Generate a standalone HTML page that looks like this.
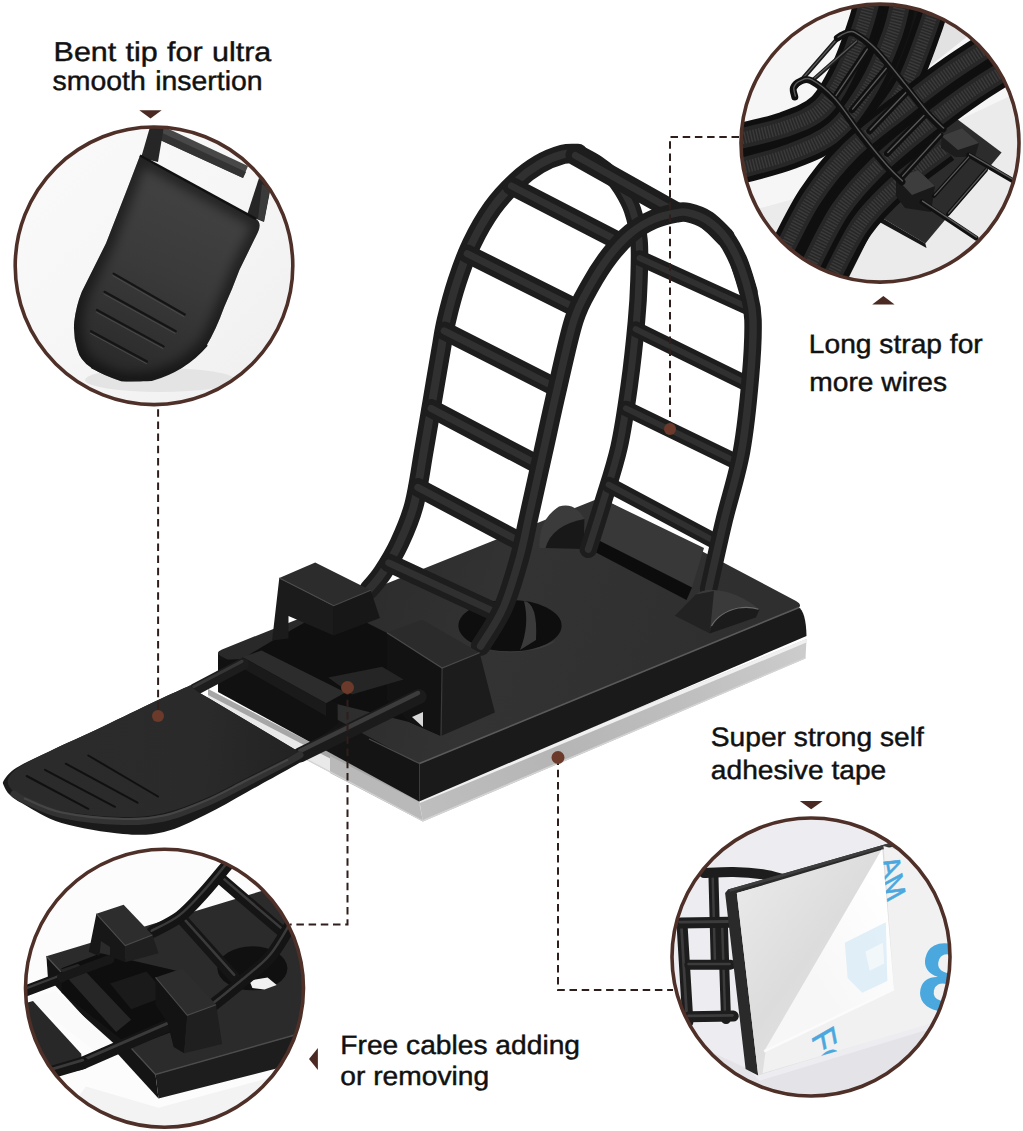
<!DOCTYPE html>
<html lang="en">
<head>
<meta charset="utf-8">
<title>Adjustable cable clip features</title>
<style>
html,body{margin:0;padding:0;background:#fff;}
body{width:1023px;height:1131px;overflow:hidden;position:relative;font-family:"Liberation Sans",sans-serif;}
svg{position:absolute;left:0;top:0;display:block;}
.t{font-family:"Liberation Sans",sans-serif;font-size:26.7px;fill:#111;stroke:#111;stroke-width:0.45px;}
</style>
</head>
<body>
<svg width="1023" height="1131" viewBox="0 0 1023 1131">
<defs>
  <clipPath id="c1"><circle cx="154" cy="265.8" r="139"/></clipPath>
  <clipPath id="c2"><circle cx="880" cy="143.1" r="139"/></clipPath>
  <clipPath id="c3"><circle cx="164.5" cy="988.3" r="139"/></clipPath>
  <clipPath id="c4"><circle cx="811" cy="957" r="139"/></clipPath>
  <linearGradient id="gTop" gradientUnits="userSpaceOnUse" x1="300" y1="560" x2="700" y2="700">
    <stop offset="0" stop-color="#292929"/><stop offset="0.5" stop-color="#333333"/><stop offset="1" stop-color="#2f2f2f"/>
  </linearGradient>
  <linearGradient id="gTongue" gradientUnits="userSpaceOnUse" x1="60" y1="740" x2="300" y2="760">
    <stop offset="0" stop-color="#2b2b2b"/><stop offset="0.6" stop-color="#2a2a2a"/><stop offset="1" stop-color="#222"/>
  </linearGradient>
  <linearGradient id="gTip" gradientUnits="userSpaceOnUse" x1="205" y1="185" x2="120" y2="385">
    <stop offset="0" stop-color="#424242"/><stop offset="0.45" stop-color="#3a3a3a"/><stop offset="0.8" stop-color="#2f2f2f"/><stop offset="1" stop-color="#272727"/>
  </linearGradient>
  <linearGradient id="gC1" gradientUnits="userSpaceOnUse" x1="20" y1="130" x2="290" y2="400">
    <stop offset="0" stop-color="#fafafa"/><stop offset="0.5" stop-color="#f6f6f6"/><stop offset="1" stop-color="#efefef"/>
  </linearGradient>
  <linearGradient id="gPad" gradientUnits="userSpaceOnUse" x1="740" y1="880" x2="900" y2="1000">
    <stop offset="0" stop-color="#e9e9e9"/><stop offset="0.5" stop-color="#dcdcdc"/><stop offset="1" stop-color="#e6e6e6"/>
  </linearGradient>
  <linearGradient id="gPeel" gradientUnits="userSpaceOnUse" x1="800" y1="960" x2="890" y2="900">
    <stop offset="0" stop-color="#f7f7f7"/><stop offset="1" stop-color="#ffffff"/>
  </linearGradient>
  <clipPath id="cLiner"><path d="M882.9 846.1 L960.0 868.0 L960.0 1014.7 L923.9 1025.5 L762.6 1073.3 L765.6 1051.3 L894.0 989.2 L882.3 848.4Z"/></clipPath>
  <linearGradient id="gTape" gradientUnits="userSpaceOnUse" x1="420" y1="800" x2="806" y2="650">
    <stop offset="0" stop-color="#bebebe"/><stop offset="0.35" stop-color="#b5b5b5"/><stop offset="0.7" stop-color="#bfbfbf"/><stop offset="1" stop-color="#cccccc"/>
  </linearGradient>
  <clipPath id="cTip"><path d="M140 155.5 L256 219 Q262 223 258 232 L239.4 270 Q232 290 224.2 307 Q216 330 206 346.4 Q195 358 181.8 367.6 Q166 376 151.5 379.7 Q136 382.5 121.2 381.2 Q104 376 91 367.6 Q80 360 77.3 349.4 Q73 336 74.2 322 Q76 306 81.8 291.8 L106 243.3 L127.3 188.8Z"/></clipPath>
  <filter id="fBlur6" x="-20%" y="-20%" width="140%" height="140%"><feGaussianBlur stdDeviation="6"/></filter>
</defs>
<rect width="1023" height="1131" fill="#fff"/>
<g id="main">
  <!-- adhesive tape -->
  <path d="M208 689 L419 799 L806.5 639 L805.5 658.5 L423 821.5 L208 708Z" fill="url(#gTape)"/>
  <path d="M208 689 L419 799 L423 821.5 L208 708Z" fill="#e9e9e9"/>
  <path d="M208 689 L419 799 L419.5 805 L208 695Z" fill="#a6a6a6"/>
  <path d="M330 756 L419 802 L423 821.5 L330 773Z" fill="#b9b9b9"/>
  <path d="M419 799 L806.5 639 L806.4 642.5 L420 803Z" fill="#f0f0f0"/>
  <path d="M423 821.5 L805.5 658.5 L805.6 657 L422.5 820 L208 706.5 L208 708Z" fill="#d4d4d4"/>
  <!-- base faces -->
  <path d="M218 652.7 L419.2 762.7 L419.2 801.4 L218 692Z" fill="#141414"/>
  <path d="M419.2 762.7 L798 607 Q806 611 806.5 636 L419.2 801.4Z" fill="#1a1a1a"/>
  <!-- base top -->
  <path d="M222 649.5 L596 499.5 Q600 497.5 604 499.5 L796 601 Q803 605 798 608.5 L424 762 Q419.5 764 414 761.5 L220 655.5 Q215 652.5 222 649.5Z" fill="url(#gTop)"/>
  <path d="M419.5 763.5 L799 607.5" stroke="#5a5a5a" stroke-width="1.6" fill="none"/>
  <path d="M419.5 763.5 L369 739" stroke="#4a4a4a" stroke-width="1.3" fill="none"/>
  <!-- raised bar + slot -->
  <path d="M609 502 L704 548 L692 587.5 L599 540.5Z" fill="#383838"/>
  <path d="M599 540.5 L692 587.5 L686.5 600 L596 552.5Z" fill="#0c0c0c"/>
  <!-- back bump -->
  <path d="M539.5 548 Q538 520 559 506.5 Q575 502 584.5 519 L586 548Z" fill="#3b3b3b"/>
  <path d="M545.5 548 Q552 525 584.5 519 L584 549Z" fill="#181818"/>
  <!-- hole -->
  <ellipse cx="510" cy="625.7" rx="51.6" ry="25.8" fill="#0e0e0e"/>
  <path d="M524 601 Q538 603 536 640 L520 650 Q530 625 524 601Z" fill="#3a3a3a"/>
  <path d="M470 642 Q510 664 556 640 Q545 651.5 510 651.5 Q480 651.5 470 642Z" fill="#3d3d3d"/>
  <!-- strap -->
  <path d="M578.0 153.5 C581.2 155.2 591.3 160.2 597.0 164.0 C602.7 167.8 607.8 171.8 612.0 176.0 C616.2 180.2 618.6 183.3 622.0 189.0 C625.4 194.7 629.7 201.5 632.5 210.0 C635.3 218.5 637.9 228.3 639.0 240.0 C640.1 251.7 639.4 266.3 639.0 280.0 C638.6 293.7 638.0 304.7 636.4 322.0 C634.8 339.3 632.4 362.8 629.5 383.7 C626.6 404.6 623.5 427.3 619.0 447.4 C614.5 467.4 607.6 487.0 602.5 504.0 C597.4 521.0 590.7 541.8 588.3 549.3" fill="none" stroke="#1d1d1d" stroke-width="17.5" stroke-linecap="round" stroke-linejoin="round" />
  <path d="M578.0 153.5 C581.2 155.2 591.3 160.2 597.0 164.0 C602.7 167.8 607.8 171.8 612.0 176.0 C616.2 180.2 618.6 183.3 622.0 189.0 C625.4 194.7 629.7 201.5 632.5 210.0 C635.3 218.5 637.9 228.3 639.0 240.0 C640.1 251.7 639.4 266.3 639.0 280.0 C638.6 293.7 638.0 304.7 636.4 322.0 C634.8 339.3 632.4 362.8 629.5 383.7 C626.6 404.6 623.5 427.3 619.0 447.4 C614.5 467.4 607.6 487.0 602.5 504.0 C597.4 521.0 590.7 541.8 588.3 549.3" fill="none" stroke="#303030" stroke-width="7" stroke-linecap="round" stroke-linejoin="round" />
  <path d="M368.7 590.0 C371.1 587.0 377.9 579.8 383.0 572.0 C388.1 564.2 394.3 554.2 399.5 543.0 C404.7 531.8 409.9 520.5 414.0 505.0 C418.1 489.5 420.9 467.5 424.0 450.0 C427.1 432.5 429.7 416.7 432.5 400.0 C435.3 383.3 438.7 363.3 441.0 350.0 C443.3 336.7 443.8 331.4 446.5 320.0 C449.2 308.6 452.9 294.3 457.1 281.5 C461.3 268.7 465.9 255.6 471.8 243.4 C477.7 231.2 485.0 218.5 492.3 208.2 C499.6 197.9 508.0 189.1 515.8 181.8 C523.6 174.5 531.5 168.8 539.3 164.2 C547.1 159.6 556.2 156.2 562.7 154.4 C569.2 152.6 575.5 153.7 578.0 153.5" fill="none" stroke="#1d1d1d" stroke-width="19.5" stroke-linecap="round" stroke-linejoin="round" />
  <path d="M368.7 590.0 C371.1 587.0 377.9 579.8 383.0 572.0 C388.1 564.2 394.3 554.2 399.5 543.0 C404.7 531.8 409.9 520.5 414.0 505.0 C418.1 489.5 420.9 467.5 424.0 450.0 C427.1 432.5 429.7 416.7 432.5 400.0 C435.3 383.3 438.7 363.3 441.0 350.0 C443.3 336.7 443.8 331.4 446.5 320.0 C449.2 308.6 452.9 294.3 457.1 281.5 C461.3 268.7 465.9 255.6 471.8 243.4 C477.7 231.2 485.0 218.5 492.3 208.2 C499.6 197.9 508.0 189.1 515.8 181.8 C523.6 174.5 531.5 168.8 539.3 164.2 C547.1 159.6 556.2 156.2 562.7 154.4 C569.2 152.6 575.5 153.7 578.0 153.5" fill="none" stroke="#303030" stroke-width="8" stroke-linecap="round" stroke-linejoin="round" />
  <path d="M639.6 258.0 L752.3 309.3" fill="none" stroke="#1d1d1d" stroke-width="15.5" stroke-linecap="round" stroke-linejoin="round" />
  <path d="M639.6 258.0 L752.3 309.3" fill="none" stroke="#303030" stroke-width="6" stroke-linecap="round" stroke-linejoin="round" />
  <path d="M635.7 329.1 L749.7 385.1" fill="none" stroke="#1d1d1d" stroke-width="15.5" stroke-linecap="round" stroke-linejoin="round" />
  <path d="M635.7 329.1 L749.7 385.1" fill="none" stroke="#303030" stroke-width="6" stroke-linecap="round" stroke-linejoin="round" />
  <path d="M626.0 408.4 L739.1 463.3" fill="none" stroke="#1d1d1d" stroke-width="15.5" stroke-linecap="round" stroke-linejoin="round" />
  <path d="M626.0 408.4 L739.1 463.3" fill="none" stroke="#303030" stroke-width="6" stroke-linecap="round" stroke-linejoin="round" />
  <path d="M608.6 484.6 L718.8 543.4" fill="none" stroke="#1d1d1d" stroke-width="15.5" stroke-linecap="round" stroke-linejoin="round" />
  <path d="M608.6 484.6 L718.8 543.4" fill="none" stroke="#303030" stroke-width="6" stroke-linecap="round" stroke-linejoin="round" />
  <path d="M575.4 155.5 L676.0 212.0" fill="none" stroke="#1d1d1d" stroke-width="20" stroke-linecap="round" stroke-linejoin="round" />
  <path d="M575.4 155.5 L676.0 212.0" fill="none" stroke="#303030" stroke-width="7" stroke-linecap="round" stroke-linejoin="round" />
  <path d="M511.5 186.0 L620.9 242.4" fill="none" stroke="#1d1d1d" stroke-width="18.5" stroke-linecap="round" stroke-linejoin="round" />
  <path d="M511.5 186.0 L620.9 242.4" fill="none" stroke="#303030" stroke-width="7" stroke-linecap="round" stroke-linejoin="round" />
  <path d="M467.2 253.7 L577.9 309.1" fill="none" stroke="#1d1d1d" stroke-width="18.5" stroke-linecap="round" stroke-linejoin="round" />
  <path d="M467.2 253.7 L577.9 309.1" fill="none" stroke="#303030" stroke-width="7" stroke-linecap="round" stroke-linejoin="round" />
  <path d="M444.2 330.8 L557.4 388.3" fill="none" stroke="#1d1d1d" stroke-width="18.5" stroke-linecap="round" stroke-linejoin="round" />
  <path d="M444.2 330.8 L557.4 388.3" fill="none" stroke="#303030" stroke-width="7" stroke-linecap="round" stroke-linejoin="round" />
  <path d="M431.1 408.4 L540.1 465.8" fill="none" stroke="#1d1d1d" stroke-width="18.5" stroke-linecap="round" stroke-linejoin="round" />
  <path d="M431.1 408.4 L540.1 465.8" fill="none" stroke="#303030" stroke-width="7" stroke-linecap="round" stroke-linejoin="round" />
  <path d="M417.8 487.4 L523.2 543.2" fill="none" stroke="#1d1d1d" stroke-width="18.5" stroke-linecap="round" stroke-linejoin="round" />
  <path d="M417.8 487.4 L523.2 543.2" fill="none" stroke="#303030" stroke-width="7" stroke-linecap="round" stroke-linejoin="round" />
  <path d="M388.8 562.8 L500.0 614.4" fill="none" stroke="#1d1d1d" stroke-width="18.5" stroke-linecap="round" stroke-linejoin="round" />
  <path d="M388.8 562.8 L500.0 614.4" fill="none" stroke="#303030" stroke-width="7" stroke-linecap="round" stroke-linejoin="round" />
  <path d="M738.6 261.4 C740.2 266.4 746.0 281.9 748.4 291.7 C750.8 301.5 752.6 305.9 753.0 320.0 C753.4 334.1 752.4 354.7 750.5 376.6 C748.6 398.5 745.9 427.5 741.5 451.6 C737.1 475.7 729.5 498.1 724.0 521.0 C718.5 543.9 711.2 577.7 708.6 589.0" fill="none" stroke="#1d1d1d" stroke-width="17.5" stroke-linecap="round" stroke-linejoin="round" />
  <path d="M707.3 220.4 C710.2 223.2 719.8 230.2 725.0 237.0 C730.2 243.8 734.7 252.3 738.6 261.4 C742.5 270.5 746.8 286.6 748.4 291.7" fill="none" stroke="#1d1d1d" stroke-width="18.5" stroke-linecap="round" stroke-linejoin="round" />
  <path d="M480.6 646.1 C484.4 639.7 496.6 622.6 503.1 607.9 C509.6 593.2 515.2 573.3 519.5 558.0 C523.8 542.7 525.1 533.5 529.0 516.0 C532.9 498.5 538.3 474.0 543.0 453.0 C547.7 432.0 551.8 412.1 557.0 389.9 C562.2 367.7 568.5 337.3 574.0 320.0 C579.5 302.7 584.1 296.6 590.0 285.9 C595.9 275.2 602.8 264.4 609.6 255.6 C616.4 246.8 623.7 239.0 631.0 233.0 C638.3 227.0 646.0 222.7 653.5 219.4 C661.0 216.1 670.3 214.1 676.0 213.0 C681.7 211.9 682.6 211.4 687.8 212.6 C693.0 213.8 701.1 216.3 707.3 220.4 C713.5 224.5 722.0 234.2 725.0 237.0" fill="none" stroke="#1d1d1d" stroke-width="19.5" stroke-linecap="round" stroke-linejoin="round" />
  <path d="M480.6 646.1 C484.4 639.7 496.6 622.6 503.1 607.9 C509.6 593.2 515.2 573.3 519.5 558.0 C523.8 542.7 525.1 533.5 529.0 516.0 C532.9 498.5 538.3 474.0 543.0 453.0 C547.7 432.0 551.8 412.1 557.0 389.9 C562.2 367.7 568.5 337.3 574.0 320.0 C579.5 302.7 584.1 296.6 590.0 285.9 C595.9 275.2 602.8 264.4 609.6 255.6 C616.4 246.8 623.7 239.0 631.0 233.0 C638.3 227.0 646.0 222.7 653.5 219.4 C661.0 216.1 670.3 214.1 676.0 213.0 C681.7 211.9 682.6 211.4 687.8 212.6 C693.0 213.8 701.1 216.3 707.3 220.4 C713.5 224.5 719.8 230.2 725.0 237.0 C730.2 243.8 734.7 252.3 738.6 261.4 C742.5 270.5 746.0 281.9 748.4 291.7 C750.8 301.5 752.6 305.9 753.0 320.0 C753.4 334.1 752.4 354.7 750.5 376.6 C748.6 398.5 745.9 427.5 741.5 451.6 C737.1 475.7 729.5 498.1 724.0 521.0 C718.5 543.9 711.2 577.7 708.6 589.0" fill="none" stroke="#303030" stroke-width="7.5" stroke-linecap="round" stroke-linejoin="round" />
  <path d="M674.6 615.7 L695.7 594.5 Q704 589 713.3 590 Q737 591 759.5 609.5 L756 617.5 L709.8 633.5 Z" fill="#3a3a3a"/>
  <path d="M674.6 615.7 L695.7 594.5 L714 591 L709.8 633.5 Z" fill="#222"/>
  <path d="M710.5 628 Q718 612 738 607.5 Q750 606 759.5 609.5 L756 617.5 L709.8 633.5 Z" fill="#1b1b1b"/>
  <path d="M711.5 626 Q719 612.5 738 608 Q750 606.3 758.5 609.3" fill="none" stroke="#6a6a6a" stroke-width="1.2"/>
  <!-- channel between blocks -->
  <path d="M272.0 641.0 L333.7 606.0 L387.0 633.0 L442.0 668.0 L441.0 736.0 L409.0 722.0 L337.0 704.0 L242.0 659.0Z" fill="#0f0f0f"/>
  <!-- left block -->
  <path d="M279.3 578.0 L315.2 562.6 L370.7 590.3 L333.7 605.7Z" fill="#2c2c2c"/>
  <path d="M279.3 578.0 L333.7 605.7 L333.7 635.5 L288.5 616.0 L288.5 638.5 L272.1 640.6Z" fill="#1b1b1b"/>
  <path d="M333.7 605.7 L370.7 590.3 L379.9 618.0 L333.7 635.5Z" fill="#171717"/>
  <!-- right block -->
  <path d="M387.0 632.7 L422.2 619.8 L479.6 652.7 L442.1 668.0Z" fill="#2b2b2b"/>
  <path d="M387.0 632.7 L442.1 668.0 L441.0 736.0 L409.3 721.9 L387.0 700.0Z" fill="#121212"/>
  <path d="M442.1 668.0 L479.6 652.7 L494.9 712.5 L441.0 736.0Z" fill="#1c1c1c"/>
  <path d="M442.1 668 L441 736" stroke="#3a3a3a" stroke-width="1.2"/>
  <path d="M387 632.7 L442.1 668 L479.6 652.7" stroke="#4a4a4a" stroke-width="1.2" fill="none"/>
  <path d="M279.3 578 L333.7 605.7 L370.7 590.3" stroke="#4a4a4a" stroke-width="1.2" fill="none"/>
  <!-- tongue -->
  <path d="M242.3 659.0 L337.6 703.5 L337.6 724.0 L312.0 742.0 L219.0 691.5 L218.0 660.0Z" fill="#111"/>
  <path d="M242.2 657.0 L261.6 650.5 L345.4 692.5 L326.0 703.2Z" fill="#2c2c2c"/>
  <path d="M242.2 657.0 L326.0 703.2 L326.0 716.0 L242.2 668.0Z" fill="#1a1a1a"/>
  <path d="M328.2 677.4 L382.0 666.7 L403.5 679.6 L351.9 694.6Z" fill="#252525"/>
  <path d="M194.6 689.6 L243 664" fill="none" stroke="#1d1d1d" stroke-width="12" stroke-linecap="round" stroke-linejoin="round" />
  <path d="M193.5 686.8 L242 661.3" fill="none" stroke="#363636" stroke-width="3" stroke-linecap="round" stroke-linejoin="round" />
  <path d="M300 755 L419 696.5" fill="none" stroke="#1b1b1b" stroke-width="15" stroke-linecap="round" stroke-linejoin="round" />
  <path d="M300 751 L418 693" fill="none" stroke="#3c3c3c" stroke-width="4.5" stroke-linecap="round" stroke-linejoin="round" />
  <path d="M412 717 L423 712 L423 727 Z" fill="#d8d8d8"/>
  <path d="M190.0 685.5 C184.3 688.1 170.6 694.1 156.0 701.0 C141.4 707.9 120.4 718.3 102.6 726.7 C84.8 735.1 63.7 744.5 49.3 751.4 C34.9 758.2 23.9 763.0 16.4 767.8 C8.9 772.6 6.2 777.0 4.1 780.0 C2.0 783.0 3.0 783.5 4.0 786.0 C5.0 788.5 6.6 791.9 10.0 795.0 C13.4 798.1 16.0 800.0 24.6 804.7 C33.2 809.4 45.2 818.1 61.6 823.0 C78.0 827.9 105.9 832.5 123.0 834.0 C140.1 835.5 150.3 835.2 164.0 832.0 C177.7 828.8 191.3 821.6 205.0 815.0 C218.7 808.4 232.6 799.9 246.3 792.4 C260.0 784.9 277.6 775.3 287.4 769.8 C297.2 764.3 302.1 761.3 305.0 759.6 L300.2 752.6 L209.3 698.4 L198 692Z" fill="#1a1a1a"/>
  <path d="M190.0 685.5 C184.3 688.1 170.6 694.1 156.0 701.0 C141.4 707.9 120.4 718.3 102.6 726.7 C84.8 735.1 63.4 744.5 49.3 751.4 C35.2 758.3 24.9 763.2 18.0 768.0 C11.1 772.8 9.0 776.3 8.0 780.0 C7.0 783.7 9.2 787.2 12.0 790.0 C14.8 792.8 16.3 793.0 24.6 796.5 C32.9 800.0 45.2 807.5 61.6 810.9 C78.0 814.3 105.9 816.6 123.0 817.0 C140.1 817.4 150.3 816.1 164.0 813.0 C177.7 809.9 191.3 804.4 205.0 798.6 C218.7 792.8 232.6 784.9 246.3 778.0 C260.0 771.1 278.6 761.8 287.4 757.5 C296.2 753.2 297.1 752.9 299.0 752.0 L209.3 698.4 L198 692Z" fill="url(#gTongue)"/>
  <path d="M14.0 794.0 C15.8 795.0 16.7 796.6 24.6 800.0 C32.5 803.4 45.2 810.9 61.6 814.5 C78.0 818.1 105.9 820.9 123.0 821.5 C140.1 822.1 150.3 821.0 164.0 818.0 C177.7 815.0 191.3 809.3 205.0 803.5 C218.7 797.7 232.6 789.9 246.3 783.0 C260.0 776.1 278.4 766.7 287.4 762.0 C296.3 757.3 297.9 756.2 300.0 755.0" fill="none" stroke="#323232" stroke-width="7" stroke-linecap="round" stroke-linejoin="round" />
  <path d="M24.6 798.5 C30.8 800.8 45.2 809.1 61.6 812.5 C78.0 815.9 105.9 818.5 123.0 819.0 C140.1 819.5 150.3 818.5 164.0 815.5 C177.7 812.5 191.3 806.8 205.0 801.0 C218.7 795.2 232.6 787.3 246.3 780.5 C260.0 773.7 280.5 763.4 287.4 760.0" fill="none" stroke="#454545" stroke-width="2" stroke-linecap="round" stroke-linejoin="round" />
  <path d="M88.3 755.5 L158.0 796.5" fill="none" stroke="#101010" stroke-width="2" stroke-linecap="round" stroke-linejoin="round" />
  <path d="M65.7 763.7 L137.5 802.7" fill="none" stroke="#101010" stroke-width="2" stroke-linecap="round" stroke-linejoin="round" />
  <path d="M45.0 769.8 L115.0 806.8" fill="none" stroke="#101010" stroke-width="2" stroke-linecap="round" stroke-linejoin="round" />
  <path d="M26.7 776.0 L88.3 808.8" fill="none" stroke="#101010" stroke-width="2" stroke-linecap="round" stroke-linejoin="round" />
</g>
<g id="circ1" clip-path="url(#c1)">
  <rect x="10" y="120" width="290" height="290" fill="url(#gC1)"/>
  <!-- soft shadow -->
  <ellipse cx="160" cy="380" rx="75" ry="12" fill="#e4e4e4"/>
  <!-- cross bar (textured) -->
  <path d="M158 124 L248 166 L243 178 L160 140Z" fill="#484848"/>
  <path d="M158 131 L246 172 L243 178 L160 140Z" fill="#333"/>
  <!-- rails -->
  <path d="M141 158 L152 120 L165 120 L158 162Z" fill="#262626"/>
  <path d="M247 215 L259 178 L271 186 L264 222Z" fill="#262626"/>
  <path d="M262 184 L270 189 L264 221 L258 219Z" fill="#3a3a3a"/>
  <!-- tip body -->
  <path d="M140 155.5 L256 219 Q262 223 258 232 L239.4 270 Q232 290 224.2 307 Q216 330 206 346.4 Q195 358 181.8 367.6 Q166 376 151.5 379.7 Q136 382.5 121.2 381.2 Q104 376 91 367.6 Q80 360 77.3 349.4 Q73 336 74.2 322 Q76 306 81.8 291.8 L106 243.3 L127.3 188.8Z" fill="url(#gTip)"/>
  <g clip-path="url(#cTip)"><path d="M140 155.5 L256 219 Q262 223 258 232 L239.4 270 Q232 290 224.2 307 Q216 330 206 346.4 Q195 358 181.8 367.6 Q166 376 151.5 379.7 Q136 382.5 121.2 381.2 Q104 376 91 367.6 Q80 360 77.3 349.4 Q73 336 74.2 322 Q76 306 81.8 291.8 L106 243.3 L127.3 188.8Z" fill="none" stroke="#000" stroke-opacity="0.5" stroke-width="16" filter="url(#fBlur6)"/></g>
  <path d="M140 155.5 L256 219" stroke="#111" stroke-width="2.5" fill="none"/>
  <path d="M92 367.5 Q120 382.5 151.5 380 Q185 370.5 206.5 345.5" stroke="#1a1a1a" stroke-width="2" fill="none" stroke-linecap="round"/>
  <!-- grip lines -->
  <g stroke="#141414" stroke-width="2.2" stroke-linecap="round" fill="none">
    <path d="M113.6 273.6 L184.8 314.5"/><path d="M104.5 291.8 L175.8 331.2"/><path d="M97 310 L163.6 346.4"/><path d="M91 331.2 L147 361.5"/>
  </g>
  <g stroke="#4a4a4a" stroke-width="1" stroke-linecap="round" fill="none">
    <path d="M113 275.8 L184 316.7"/><path d="M104 294 L175 333.4"/><path d="M96.5 312.2 L163 348.6"/><path d="M90.5 333.4 L146.5 363.7"/>
  </g>
</g>
<g id="circ2" clip-path="url(#c2)">
  <rect x="735" y="0" width="290" height="290" fill="#f6f6f6"/>
  <path d="M735 290 L735 215 L790 200 L1023 90 L1023 290Z" fill="#ebebeb"/>
  <path d="M948.0 6.0 L930.0 66.0 L978.0 28.0 L965.0 15.0Z" fill="#e2e2e2"/>
  <path d="M870.0 -2.0 L945.0 -2.0 L930.0 60.0 L905.0 110.0 L870.0 150.0 L835.0 135.0 L862.0 80.0Z" fill="#141414"/>
  <path d="M785.0 250.0 L845.0 285.0 L885.0 205.0 L925.0 150.0 L860.0 150.0 L820.0 190.0Z" fill="#141414"/>
  <path d="M938.0 -5.0 C936.2 0.8 932.5 15.0 927.0 30.0 C921.5 45.0 913.5 69.2 905.0 85.0 C896.5 100.8 885.2 114.2 876.0 125.0 C866.8 135.8 854.3 145.8 850.0 150.0" fill="none" stroke="#0f0f0f" stroke-width="29"/>
  <path d="M938.0 -5.0 C936.2 0.8 932.5 15.0 927.0 30.0 C921.5 45.0 913.5 69.2 905.0 85.0 C896.5 100.8 885.2 114.2 876.0 125.0 C866.8 135.8 854.3 145.8 850.0 150.0" fill="none" stroke="#272727" stroke-width="18.9"/>
  <path d="M938.0 -5.0 C936.2 0.8 932.5 15.0 927.0 30.0 C921.5 45.0 913.5 69.2 905.0 85.0 C896.5 100.8 885.2 114.2 876.0 125.0 C866.8 135.8 854.3 145.8 850.0 150.0" fill="none" stroke="#3a3a3a" stroke-width="11.34" stroke-dasharray="1.5 1.5"/>
  <path d="M730.0 171.0 C740.0 168.2 772.5 160.7 790.0 154.0 C807.5 147.3 822.0 142.0 835.0 131.0 C848.0 120.0 858.5 104.0 868.0 88.0 C877.5 72.0 886.3 50.5 892.0 35.0 C897.7 19.5 900.3 1.7 902.0 -5.0" fill="none" stroke="#0f0f0f" stroke-width="31"/>
  <path d="M730.0 171.0 C740.0 168.2 772.5 160.7 790.0 154.0 C807.5 147.3 822.0 142.0 835.0 131.0 C848.0 120.0 858.5 104.0 868.0 88.0 C877.5 72.0 886.3 50.5 892.0 35.0 C897.7 19.5 900.3 1.7 902.0 -5.0" fill="none" stroke="#272727" stroke-width="20.299999999999997"/>
  <path d="M730.0 171.0 C740.0 168.2 772.5 160.7 790.0 154.0 C807.5 147.3 822.0 142.0 835.0 131.0 C848.0 120.0 858.5 104.0 868.0 88.0 C877.5 72.0 886.3 50.5 892.0 35.0 C897.7 19.5 900.3 1.7 902.0 -5.0" fill="none" stroke="#3a3a3a" stroke-width="12.18" stroke-dasharray="1.5 1.5"/>
  <path d="M730.0 141.0 C739.2 138.7 769.7 132.5 785.0 127.0 C800.3 121.5 811.8 117.5 822.0 108.0 C832.2 98.5 839.2 83.8 846.0 70.0 C852.8 56.2 858.8 37.5 863.0 25.0 C867.2 12.5 869.7 0.0 871.0 -5.0" fill="none" stroke="#0f0f0f" stroke-width="31"/>
  <path d="M730.0 141.0 C739.2 138.7 769.7 132.5 785.0 127.0 C800.3 121.5 811.8 117.5 822.0 108.0 C832.2 98.5 839.2 83.8 846.0 70.0 C852.8 56.2 858.8 37.5 863.0 25.0 C867.2 12.5 869.7 0.0 871.0 -5.0" fill="none" stroke="#272727" stroke-width="20.299999999999997"/>
  <path d="M730.0 141.0 C739.2 138.7 769.7 132.5 785.0 127.0 C800.3 121.5 811.8 117.5 822.0 108.0 C832.2 98.5 839.2 83.8 846.0 70.0 C852.8 56.2 858.8 37.5 863.0 25.0 C867.2 12.5 869.7 0.0 871.0 -5.0" fill="none" stroke="#3a3a3a" stroke-width="12.18" stroke-dasharray="1.5 1.5"/>
  <path d="M954.7 117.3 L1001.6 152.5 L925.3 243.4 L875.5 214.0Z" fill="#2c2c2c"/>
  <path d="M875.5 214.0 L925.3 243.4 L926.5 248.0 L874.0 219.0Z" fill="#171717"/>
  <path d="M827.0 285.0 C832.3 275.2 847.3 242.7 859.0 226.0 C870.7 209.3 882.7 198.0 897.0 185.0 C911.3 172.0 937.0 154.2 945.0 148.0" fill="none" stroke="#0f0f0f" stroke-width="30"/>
  <path d="M827.0 285.0 C832.3 275.2 847.3 242.7 859.0 226.0 C870.7 209.3 882.7 198.0 897.0 185.0 C911.3 172.0 937.0 154.2 945.0 148.0" fill="none" stroke="#272727" stroke-width="19.599999999999998"/>
  <path d="M827.0 285.0 C832.3 275.2 847.3 242.7 859.0 226.0 C870.7 209.3 882.7 198.0 897.0 185.0 C911.3 172.0 937.0 154.2 945.0 148.0" fill="none" stroke="#3a3a3a" stroke-width="11.76" stroke-dasharray="1.5 1.5"/>
  <path d="M808.0 270.0 C813.3 260.0 828.3 227.3 840.0 210.0 C851.7 192.7 863.8 180.0 878.0 166.0 C892.2 152.0 908.8 138.8 925.0 126.0 C941.2 113.2 958.3 100.3 975.0 89.0 C991.7 77.7 1016.7 63.2 1025.0 58.0" fill="none" stroke="#0f0f0f" stroke-width="30"/>
  <path d="M808.0 270.0 C813.3 260.0 828.3 227.3 840.0 210.0 C851.7 192.7 863.8 180.0 878.0 166.0 C892.2 152.0 908.8 138.8 925.0 126.0 C941.2 113.2 958.3 100.3 975.0 89.0 C991.7 77.7 1016.7 63.2 1025.0 58.0" fill="none" stroke="#272727" stroke-width="19.599999999999998"/>
  <path d="M808.0 270.0 C813.3 260.0 828.3 227.3 840.0 210.0 C851.7 192.7 863.8 180.0 878.0 166.0 C892.2 152.0 908.8 138.8 925.0 126.0 C941.2 113.2 958.3 100.3 975.0 89.0 C991.7 77.7 1016.7 63.2 1025.0 58.0" fill="none" stroke="#3a3a3a" stroke-width="11.76" stroke-dasharray="1.5 1.5"/>
  <path d="M781.0 256.0 C786.2 246.3 800.5 215.5 812.0 198.0 C823.5 180.5 835.3 165.7 850.0 151.0 C864.7 136.3 883.3 123.2 900.0 110.0 C916.7 96.8 932.5 84.3 950.0 72.0 C967.5 59.7 995.8 42.0 1005.0 36.0" fill="none" stroke="#0f0f0f" stroke-width="30"/>
  <path d="M781.0 256.0 C786.2 246.3 800.5 215.5 812.0 198.0 C823.5 180.5 835.3 165.7 850.0 151.0 C864.7 136.3 883.3 123.2 900.0 110.0 C916.7 96.8 932.5 84.3 950.0 72.0 C967.5 59.7 995.8 42.0 1005.0 36.0" fill="none" stroke="#272727" stroke-width="19.599999999999998"/>
  <path d="M781.0 256.0 C786.2 246.3 800.5 215.5 812.0 198.0 C823.5 180.5 835.3 165.7 850.0 151.0 C864.7 136.3 883.3 123.2 900.0 110.0 C916.7 96.8 932.5 84.3 950.0 72.0 C967.5 59.7 995.8 42.0 1005.0 36.0" fill="none" stroke="#3a3a3a" stroke-width="11.76" stroke-dasharray="1.5 1.5"/>
  <path d="M941.5 136.0 L962.0 128.0 L979.0 143.0 L975.0 157.0 L955.0 157.0 L941.0 148.0Z" fill="#1c1c1c"/>
  <path d="M941.5 136.0 L962.0 128.0 L979.0 143.0 L958.0 150.0Z" fill="#3d3d3d"/>
  <path d="M896.0 178.0 L918.0 170.0 L935.0 186.0 L931.0 212.0 L905.0 208.0 L896.0 196.0Z" fill="#191919"/>
  <path d="M896.0 178.0 L918.0 170.0 L935.0 186.0 L912.0 195.0Z" fill="#3d3d3d"/>
  <path d="M922 202 L976 238" fill="none" stroke="#101010" stroke-width="5" stroke-linecap="round" stroke-linejoin="round"/>
  <path d="M922 202 L976 238" fill="none" stroke="#585858" stroke-width="1.4" stroke-linecap="round" stroke-linejoin="round" transform="translate(0.6,-0.9)"/>
  <path d="M969 155 L1017 183" fill="none" stroke="#101010" stroke-width="5" stroke-linecap="round" stroke-linejoin="round"/>
  <path d="M969 155 L1017 183" fill="none" stroke="#585858" stroke-width="1.4" stroke-linecap="round" stroke-linejoin="round" transform="translate(0.6,-0.9)"/>
  <path d="M934 196 L968 158" fill="none" stroke="#101010" stroke-width="4" stroke-linecap="round" stroke-linejoin="round"/>
  <path d="M934 196 L968 158" fill="none" stroke="#585858" stroke-width="1.4" stroke-linecap="round" stroke-linejoin="round" transform="translate(0.6,-0.9)"/>
  <path d="M948 214 L986 170" fill="none" stroke="#101010" stroke-width="4" stroke-linecap="round" stroke-linejoin="round"/>
  <path d="M948 214 L986 170" fill="none" stroke="#585858" stroke-width="1.4" stroke-linecap="round" stroke-linejoin="round" transform="translate(0.6,-0.9)"/>
  <path d="M796.3 86 L838 38" fill="none" stroke="#1a1a1a" stroke-width="4.2" stroke-linecap="round" stroke-linejoin="round"/>
  <path d="M796.3 86 L838 38" fill="none" stroke="#585858" stroke-width="1.4" stroke-linecap="round" stroke-linejoin="round" transform="translate(0.6,-0.9)"/>
  <path d="M813 80 L856 42" fill="none" stroke="#1a1a1a" stroke-width="4.2" stroke-linecap="round" stroke-linejoin="round"/>
  <path d="M813 80 L856 42" fill="none" stroke="#585858" stroke-width="1.4" stroke-linecap="round" stroke-linejoin="round" transform="translate(0.6,-0.9)"/>
  <path d="M834.4 98.0 L866.7 50.0" fill="none" stroke="#101010" stroke-width="6.6" stroke-linecap="round" stroke-linejoin="round"/>
  <path d="M834.4 98.0 L866.7 50.0" fill="none" stroke="#585858" stroke-width="1.4" stroke-linecap="round" stroke-linejoin="round" transform="translate(0.6,-0.9)"/>
  <path d="M852.0 110.0 L887.2 67.4" fill="none" stroke="#101010" stroke-width="6.6" stroke-linecap="round" stroke-linejoin="round"/>
  <path d="M852.0 110.0 L887.2 67.4" fill="none" stroke="#585858" stroke-width="1.4" stroke-linecap="round" stroke-linejoin="round" transform="translate(0.6,-0.9)"/>
  <path d="M869.6 131.0 L907.7 90.9" fill="none" stroke="#101010" stroke-width="6.6" stroke-linecap="round" stroke-linejoin="round"/>
  <path d="M869.6 131.0 L907.7 90.9" fill="none" stroke="#585858" stroke-width="1.4" stroke-linecap="round" stroke-linejoin="round" transform="translate(0.6,-0.9)"/>
  <path d="M887.2 153.5 L925.3 114.4" fill="none" stroke="#101010" stroke-width="6.6" stroke-linecap="round" stroke-linejoin="round"/>
  <path d="M887.2 153.5 L925.3 114.4" fill="none" stroke="#585858" stroke-width="1.4" stroke-linecap="round" stroke-linejoin="round" transform="translate(0.6,-0.9)"/>
  <path d="M901.9 177.0 L940.0 134.9" fill="none" stroke="#101010" stroke-width="6.6" stroke-linecap="round" stroke-linejoin="round"/>
  <path d="M901.9 177.0 L940.0 134.9" fill="none" stroke="#585858" stroke-width="1.4" stroke-linecap="round" stroke-linejoin="round" transform="translate(0.6,-0.9)"/>
  <path d="M794.8 97.0 C794.6 95.5 792.5 90.6 793.4 88.0 C794.3 85.4 797.1 82.7 800.0 81.5 C802.9 80.3 805.3 77.6 811.0 80.6 C816.7 83.6 826.1 90.7 834.4 99.7 C842.7 108.8 852.0 123.7 860.8 134.9 C869.6 146.2 880.4 159.4 887.2 167.2 C894.1 175.0 899.5 179.4 901.9 181.8" fill="none" stroke="#101010" stroke-width="7" stroke-linecap="round" stroke-linejoin="round"/>
  <path d="M794.8 97.0 C794.6 95.5 792.5 90.6 793.4 88.0 C794.3 85.4 797.1 82.7 800.0 81.5 C802.9 80.3 805.3 77.6 811.0 80.6 C816.7 83.6 826.1 90.7 834.4 99.7 C842.7 108.8 852.0 123.7 860.8 134.9 C869.6 146.2 880.4 159.4 887.2 167.2 C894.1 175.0 899.5 179.4 901.9 181.8" fill="none" stroke="#585858" stroke-width="1.4" stroke-linecap="round" stroke-linejoin="round" transform="translate(0.6,-0.9)"/>
  <path d="M837.4 38.0 C838.8 37.2 843.1 34.2 846.0 33.5 C848.9 32.8 850.1 31.0 855.0 33.7 C859.9 36.4 867.2 41.4 875.5 49.9 C883.8 58.4 896.0 74.2 904.8 85.0 C913.6 95.8 921.9 107.1 928.3 114.4 C934.7 121.7 940.5 126.6 943.0 129.0" fill="none" stroke="#101010" stroke-width="7" stroke-linecap="round" stroke-linejoin="round"/>
  <path d="M837.4 38.0 C838.8 37.2 843.1 34.2 846.0 33.5 C848.9 32.8 850.1 31.0 855.0 33.7 C859.9 36.4 867.2 41.4 875.5 49.9 C883.8 58.4 896.0 74.2 904.8 85.0 C913.6 95.8 921.9 107.1 928.3 114.4 C934.7 121.7 940.5 126.6 943.0 129.0" fill="none" stroke="#585858" stroke-width="1.4" stroke-linecap="round" stroke-linejoin="round" transform="translate(0.6,-0.9)"/>
</g>
<g id="circ3" clip-path="url(#c3)">
  <rect x="20" y="845" width="290" height="290" fill="#fcfcfc"/>
  <path d="M85.8 1086.5 L158.5 1107.7 L282.7 1074.4 L313.0 1107.7 L161.5 1132.0 L70.6 1107.7Z" fill="#f3f3f3"/>
  <path d="M46.4 956.2 L261.5 891.1 L313.0 904.7 L313.0 1028.9 L294.8 1035.0 L155.5 1074.4Z" fill="#2b2b2b"/>
  <path d="M46.4 956.2 L155.5 1074.4 L158.5 1098.6 L47.9 977.4Z" fill="#141414"/>
  <path d="M155.5 1074.4 L294.8 1035.0 L313.0 1028.9 L313.0 1059.2 L158.5 1098.6Z" fill="#1d1d1d"/>
  <path d="M46.4 956.2 L155.5 1074.4 L294.8 1035.0" stroke="#4c4c4c" stroke-width="1.3" fill="none"/>
  <ellipse cx="252.4" cy="968.3" rx="35" ry="22" fill="#101010"/>
  <path d="M249.4 980.5 L267.6 977.4 L276.7 985.0 L264.5 989.5 L252.4 988.0Z" fill="#f0f0f0"/>
  <path d="M28.2 998.6 L55.5 991.1 L114.5 1044.1 L100.9 1056.2Z" fill="#fafafa"/>
  <path d="M19.1 1004.7 L33.0 1001.1 L81.2 1053.8 L82.7 1069.8 L28.2 1080.5 L16.1 1047.1Z" fill="#282828"/>
  <path d="M61.5 968.3 L100.9 953.2 L179.7 971.4 L179.7 1028.9 L131.2 1047.1 L61.5 992.6Z" fill="#0e0e0e"/>
  <path d="M60.0 969.8 L78.2 963.8 L131.2 1019.8 L116.1 1032.0Z" fill="#262626"/>
  <path d="M110.0 983.5 L146.4 971.4 L167.6 995.6 L131.2 1009.2Z" fill="#1a1a1a"/>
  <path d="M25.2 991.1 L61.5 977.4" stroke="#151515" stroke-width="11.0" stroke-linecap="round" fill="none"/>
  <path d="M25.2 988.6 L61.5 975.0" stroke="#3a3a3a" stroke-width="2.4" stroke-linecap="round" fill="none"/>
  <path d="M61.5 977.4 L110.0 959.2" stroke="#181818" stroke-width="9.0" stroke-linecap="round" fill="none"/>
  <path d="M82.7 1062.9 L169.1 1025.3" stroke="#151515" stroke-width="12.5" stroke-linecap="round" fill="none"/>
  <path d="M82.7 1060.1 L169.1 1022.6" stroke="#3a3a3a" stroke-width="2.8" stroke-linecap="round" fill="none"/>
  <path d="M82.7 1062.9 L28.2 1078.9" stroke="#151515" stroke-width="12.5" stroke-linecap="round" fill="none"/>
  <path d="M82.7 1060.1 L28.2 1076.2" stroke="#3a3a3a" stroke-width="2.8" stroke-linecap="round" fill="none"/>
  <path d="M182.7 919.8 L234.2 977.4" stroke="#151515" stroke-width="11.5" stroke-linecap="round" fill="none"/>
  <path d="M182.7 917.3 L234.2 974.9" stroke="#3a3a3a" stroke-width="2.5" stroke-linecap="round" fill="none"/>
  <path d="M219.1 877.4 L282.7 932.0" stroke="#151515" stroke-width="11.5" stroke-linecap="round" fill="none"/>
  <path d="M219.1 874.9 L282.7 929.4" stroke="#3a3a3a" stroke-width="2.5" stroke-linecap="round" fill="none"/>
  <path d="M228.2 863.8 C224.1 868.6 212.0 883.7 203.9 892.6 C195.9 901.4 188.3 910.3 179.7 916.8 C171.1 923.4 157.0 929.4 152.4 932.0" stroke="#141414" stroke-width="12.0" stroke-linecap="round" fill="none"/>
  <path d="M228.2 863.8 C224.1 868.6 212.0 883.7 203.9 892.6 C195.9 901.4 188.3 910.3 179.7 916.8 C171.1 923.4 157.0 929.4 152.4 932.0" stroke="#3a3a3a" stroke-width="2.4" stroke-linecap="round" fill="none" transform="translate(-0.8,-1.2)"/>
  <path d="M291.8 922.9 C288.3 928.4 278.7 946.6 270.6 956.2 C262.5 965.8 251.9 973.1 243.3 980.5 C234.7 987.8 225.7 994.8 219.1 1000.2 C212.5 1005.5 206.5 1010.3 203.9 1012.3" stroke="#141414" stroke-width="12.5" stroke-linecap="round" fill="none"/>
  <path d="M291.8 922.9 C288.3 928.4 278.7 946.6 270.6 956.2 C262.5 965.8 251.9 973.1 243.3 980.5 C234.7 987.8 225.7 994.8 219.1 1000.2 C212.5 1005.5 206.5 1010.3 203.9 1012.3" stroke="#3a3a3a" stroke-width="2.5" stroke-linecap="round" fill="none" transform="translate(-0.8,-1.2)"/>
  <path d="M96.4 913.8 L123.6 904.7 L152.4 935.0 L125.2 945.6Z" fill="#2d2d2d"/>
  <path d="M96.4 913.8 L125.2 945.6 L125.2 962.3 L110.0 956.2 L110.0 947.1 L100.9 941.1 L99.4 956.2 L88.8 951.7Z" fill="#171717"/>
  <path d="M125.2 945.6 L152.4 935.0 L158.5 953.2 L125.2 962.3Z" fill="#1f1f1f"/>
  <path d="M155.5 977.4 L182.7 968.3 L216.1 1004.7 L187.3 1015.3Z" fill="#2d2d2d"/>
  <path d="M155.5 977.4 L187.3 1015.3 L184.2 1053.2 L173.6 1047.1 L167.6 1022.9 L155.5 1004.7Z" fill="#131313"/>
  <path d="M187.3 1015.3 L216.1 1004.7 L222.1 1044.1 L184.2 1053.2Z" fill="#1f1f1f"/>
  <path d="M155.5 977.4 L187.3 1015.3 L216.1 1004.7" stroke="#4a4a4a" stroke-width="1.1" fill="none"/>
  <path d="M96.4 913.8 L125.2 945.6 L152.4 935.0" stroke="#4a4a4a" stroke-width="1.1" fill="none"/>
</g>
<g id="circ4" clip-path="url(#c4)">
  <rect x="665" y="812" width="290" height="290" fill="#ededf1"/>
  <path d="M660.0 1027.9 L748.0 1068.9 L759.7 1080.7 L923.9 1030.8 L960.0 1039.6 L960.0 1105.0 L660.0 1105.0Z" fill="#e4e4e8"/>
  <path d="M713.4 873.9 L715.7 960.4" stroke="#1d1d1d" stroke-width="10.0" stroke-linecap="round" fill="none"/>
  <path d="M712.6 873.1 L714.9 959.6" stroke="#3c3c3c" stroke-width="2.5" stroke-linecap="round" fill="none"/>
  <path d="M723.0 928.2 L726.0 1019.1" stroke="#1d1d1d" stroke-width="10.0" stroke-linecap="round" fill="none"/>
  <path d="M722.2 927.4 L725.2 1018.3" stroke="#3c3c3c" stroke-width="2.5" stroke-linecap="round" fill="none"/>
  <path d="M682.0 923.8 L687.9 1022.0" stroke="#1d1d1d" stroke-width="11.0" stroke-linecap="round" fill="none"/>
  <path d="M681.2 923.0 L687.1 1021.2" stroke="#3c3c3c" stroke-width="2.8" stroke-linecap="round" fill="none"/>
  <path d="M704.0 873.0 C708.9 872.8 723.5 871.7 733.3 871.9 C743.1 872.1 753.8 872.9 762.6 874.2 C771.4 875.5 782.2 878.9 786.1 879.8" stroke="#1d1d1d" stroke-width="10" stroke-linecap="round" fill="none"/>
  <path d="M680.5 922.9 L728.9 922.3" stroke="#1d1d1d" stroke-width="11.0" stroke-linecap="round" fill="none"/>
  <path d="M679.7 922.1 L728.1 921.5" stroke="#3c3c3c" stroke-width="2.8" stroke-linecap="round" fill="none"/>
  <path d="M689.3 964.8 L730.4 964.8" stroke="#1d1d1d" stroke-width="10.0" stroke-linecap="round" fill="none"/>
  <path d="M688.5 964.0 L729.6 964.0" stroke="#3c3c3c" stroke-width="2.5" stroke-linecap="round" fill="none"/>
  <path d="M689.3 1016.7 L733.3 1016.1" stroke="#1d1d1d" stroke-width="11.0" stroke-linecap="round" fill="none"/>
  <path d="M688.5 1015.9 L732.5 1015.3" stroke="#3c3c3c" stroke-width="2.8" stroke-linecap="round" fill="none"/>
  <path d="M725.1 893.0 L728.0 889.5 L891.7 842.5 L894.6 849.0 L736.8 893.0 L758.2 1075.4 L745.6 1068.9Z" fill="#2a2a2a"/>
  <path d="M728.0 889.5 L891.7 842.5 L892.6 845.2 L730.4 891.8Z" fill="#3d3d3d"/>
  <path d="M736.8 893.0 L894.6 846.1 L960.0 863.7 L960.0 1016.1 L923.9 1024.9 L758.2 1075.4Z" fill="url(#gPad)"/>
  <path d="M883.5 846.1 L960.0 868.0 L960.0 1014.7 L923.9 1025.5 L762.6 1073.3 L765.6 1051.3 L894.0 989.2Z" fill="#f1f1f2"/>
  <path d="M882.3 848.4 L894.0 989.2 L764.1 1051.3Z" fill="url(#gPeel)"/>
  <path d="M894.0 989.2 L764.1 1051.3" stroke="#fbfbfb" stroke-width="2.5" fill="none"/>
  <path d="M844.8 942.8 L885.8 922.3 L887.3 981.0 L862.3 992.7 L847.7 978.0Z" fill="#d6e9f6" opacity="0.75"/>
  <path d="M865.3 951.6 L882.9 942.8 L884.3 963.4 L869.7 970.7Z" fill="#f4f7f9" opacity="0.9"/>
</g>
<g clip-path="url(#c4)"><g clip-path="url(#cLiner)" font-family="'Liberation Sans',sans-serif" fill="#4ba8de">
  <text transform="translate(945 978) rotate(192)" font-size="96" font-weight="bold" text-anchor="middle" dominant-baseline="central">3</text>
  <text transform="translate(880.6 862.3) rotate(80) skewX(19)" font-size="28" stroke="#4ba8de" stroke-width="0.6">AM</text>
  <text transform="translate(811.5 1036) rotate(79) skewX(19)" font-size="34" stroke="#4ba8de" stroke-width="0.5">FO</text>
  <text transform="translate(806 1020) rotate(79)" font-size="24">.</text>
</g></g>
<!-- rings -->
<g fill="none" stroke="#4e3028" stroke-width="3.6">
  <circle cx="154" cy="265.8" r="138.8"/>
  <circle cx="880" cy="143.1" r="139"/>
  <circle cx="164.5" cy="988.3" r="139"/>
  <circle cx="811" cy="957" r="139"/>
</g>

<!-- dashed leaders -->
<g fill="none" stroke="#2e1f1c" stroke-width="2" stroke-dasharray="7.5 4.7">
  <path d="M158.1 409.2V716"/>
  <path d="M739 137H670V429"/>
  <path d="M347.5 687.5V924.5H290"/>
  <path d="M558 757.5V990H673"/>
</g>
<g fill="#6b3a2a">
  <circle cx="158" cy="716" r="6"/>
  <circle cx="670" cy="429" r="6"/>
  <circle cx="347.5" cy="687.5" r="6.5"/>
  <circle cx="558" cy="757.5" r="6.5"/>
</g>

<!-- triangles -->
<g fill="#4a2a22">
  <path d="M139.3 110.2H161.7L150.5 118.6Z"/>
  <path d="M872.2 304.6H894.6L883.4 296.1Z"/>
  <path d="M799.8 801H822.7L811.2 809.2Z"/>
  <path d="M317.9 1047.9V1070L309 1059Z"/>
</g>

<!-- labels -->
<g class="t" text-rendering="geometricPrecision">
  <text transform="translate(53.6 60.7) scale(1.12 1)" style="font-size:27.2px;word-spacing:0.8px">Bent tip for ultra</text>
  <text transform="translate(52.6 90.4) scale(1.045 1)" style="font-size:27.2px;word-spacing:1.5px">smooth insertion</text>
  <text transform="translate(808.8 353.2) scale(1.056 1)">Long strap for</text>
  <text transform="translate(809.3 391.2) scale(1.056 1)">more wires</text>
  <text transform="translate(710.8 746.4) scale(1.056 1)">Super strong self</text>
  <text transform="translate(710.8 778.9) scale(1.056 1)">adhesive tape</text>
  <text transform="translate(340.3 1053.6) scale(1.056 1)">Free cables adding</text>
  <text transform="translate(340.3 1084.8) scale(1.056 1)">or removing</text>
</g>
</svg>
</body>
</html>
